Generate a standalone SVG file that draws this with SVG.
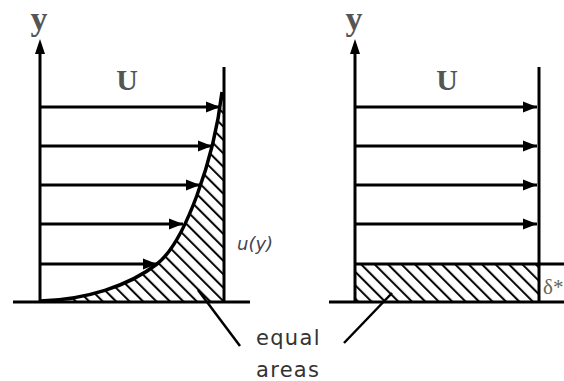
<svg xmlns="http://www.w3.org/2000/svg" width="564" height="381" viewBox="0 0 564 381">
<style>
.ln{stroke:#000;stroke-width:3;fill:none}
.arr{stroke:#000;stroke-width:3;fill:none;marker-end:url(#ah)}
.lbl{font-family:"Liberation Serif",serif;font-weight:bold;fill:#555}
.note{font-family:"DejaVu Sans",sans-serif;font-size:21px;letter-spacing:1.3px;fill:#333}
</style>
<defs>
<marker id="ah" markerUnits="userSpaceOnUse" markerWidth="16" markerHeight="12" refX="14" refY="6" orient="auto"><path d="M0,0.5 L14,6 L0,11.5 Z" fill="#000"/></marker>
<pattern id="hatch" width="9.5" height="9.5" patternUnits="userSpaceOnUse" patternTransform="rotate(-45)"><line x1="2" y1="0" x2="2" y2="9.5" stroke="#000" stroke-width="2"/></pattern>
<clipPath id="cl"><path d="M40,301 C85,300 129,286 157,264 C185,242 214,160 222,92 L224,80 L224,301 Z"/></clipPath>
</defs>
<g id="left-diagram">
<rect x="40" y="80" width="185" height="222" fill="url(#hatch)" clip-path="url(#cl)"/>
<line class="ln" x1="13" y1="302" x2="250" y2="302"/>
<line class="ln" x1="224" y1="67" x2="224" y2="302"/>
<path d="M40,301 C85,300 129,286 157,264 C185,242 214,160 222,92" stroke="#000" stroke-width="3.5" fill="none"/>
<path d="M40,303 L40,52" class="ln"/>
<path d="M35,54 L40,39 L45,54 Z" fill="#000"/>
<text class="lbl" x="39" y="30" font-size="34" text-anchor="middle">y</text>
<text class="lbl" x="127" y="90" font-size="30" text-anchor="middle">U</text>
<text x="237" y="250" font-family="'DejaVu Sans',sans-serif" font-style="italic" font-size="18" fill="#445">u(y)</text>
</g>
<g id="right-diagram">
<rect x="355" y="264" width="184" height="37" fill="url(#hatch)"/>
<line class="ln" x1="329" y1="302" x2="564" y2="302"/>
<line class="ln" x1="355" y1="264" x2="564" y2="264"/>
<line class="ln" x1="539" y1="67" x2="539" y2="302"/>
<path d="M355,303 L355,52" class="ln"/>
<path d="M350,54 L355,39 L360,54 Z" fill="#000"/>
<text class="lbl" x="354" y="30" font-size="34" text-anchor="middle">y</text>
<text class="lbl" x="447" y="90" font-size="30" text-anchor="middle">U</text>
<text x="543" y="294" font-family="'Liberation Serif',serif" font-size="21" fill="#665">δ*</text>
</g>
<g id="connectors">
<line class="arr" x1="40" y1="107" x2="220" y2="107"/>
<line class="arr" x1="40" y1="146" x2="212" y2="146"/>
<line class="arr" x1="40" y1="185" x2="200" y2="185"/>
<line class="arr" x1="40" y1="224" x2="183" y2="224"/>
<line class="arr" x1="40" y1="264" x2="157" y2="264"/>
<line class="arr" x1="355" y1="107" x2="537" y2="107"/>
<line class="arr" x1="355" y1="146" x2="537" y2="146"/>
<line class="arr" x1="355" y1="185" x2="537" y2="185"/>
<line class="arr" x1="355" y1="224" x2="537" y2="224"/>
<line x1="198" y1="290" x2="240" y2="346" stroke="#000" stroke-width="2.5"/>
<line x1="392" y1="293" x2="344" y2="343" stroke="#000" stroke-width="2.5"/>
</g>
<g id="label-equal-areas">
<text class="note" x="256" y="345">equal</text>
<text class="note" x="256" y="377">areas</text>
</g>
</svg>
